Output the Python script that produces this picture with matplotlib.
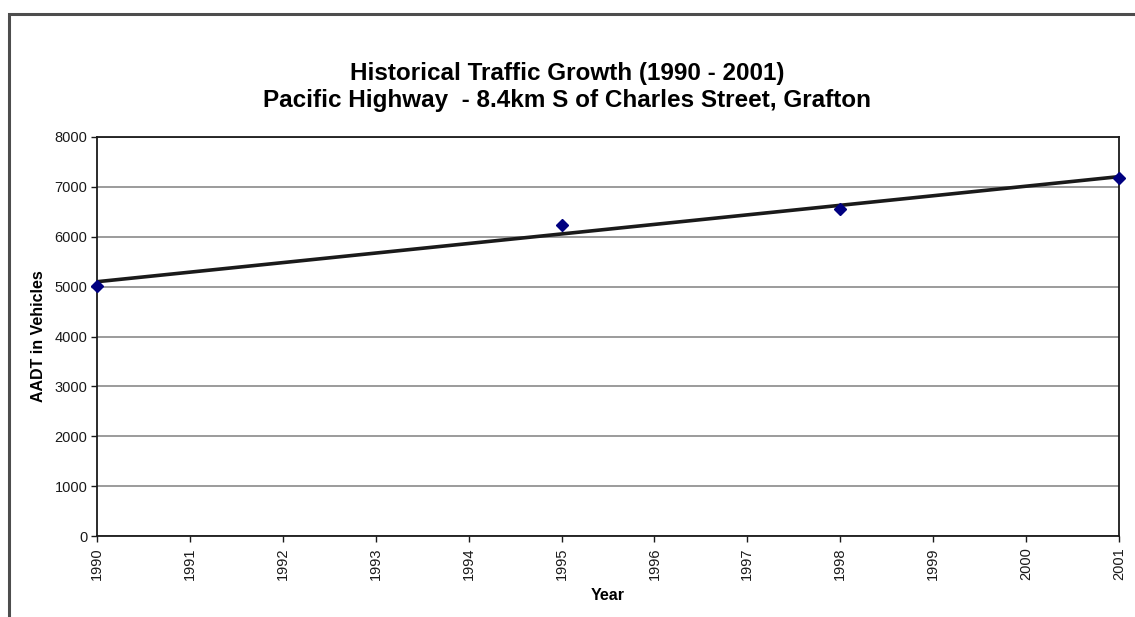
import numpy as np
import matplotlib
matplotlib.use("Agg")
import matplotlib.pyplot as plt
from matplotlib.patches import Rectangle

plt.rcParams['font.family'] = ['Liberation Sans', 'DejaVu Sans']

years = [1990, 1995, 1998, 2001]
aadt = [5020, 6240, 6550, 7180]
year_ticks = list(range(1990, 2002))
y_ticks = list(range(0, 8001, 1000))

title = "Historical Traffic Growth (1990 - 2001)\nPacific Highway  - 8.4km S of Charles Street, Grafton"

fig = plt.figure(figsize=(11.35, 6.17), dpi=100)
ax = fig.add_axes([97 / 1135, 1 - 536 / 617, (1119 - 97) / 1135, (536 - 137) / 617])

# outer chart border (runs off the right and bottom edges)
fig.add_artist(Rectangle((9 / 1135, -0.1), 1.2, 1 - 14 / 617 + 0.1, transform=fig.transFigure,
                         fill=False, edgecolor='#4d4d4d', linewidth=2.2))

# linear trend line
coef = np.polyfit(years, aadt, 1)
xs = np.array([years[0], years[-1]])
ax.plot(xs, np.polyval(coef, xs), color='#1a1a1a', linewidth=2.6, zorder=3)
ax.plot(years, aadt, linestyle='none', marker='D', markersize=6.5, color='#000080',
        clip_on=False, zorder=4)

ax.set_xlim(1990, 2001)
ax.set_ylim(0, 8000)
ax.set_xticks(year_ticks)
ax.set_xticklabels([str(y) for y in year_ticks], rotation=90)
ax.set_yticks(y_ticks)
ax.yaxis.grid(True, color='#808080', linewidth=1.1)
ax.set_axisbelow(True)
for s in ax.spines.values():
    s.set_color('#1a1a1a')
    s.set_linewidth(1.3)
ax.tick_params(axis='both', labelsize=10.5, colors='#1a1a1a', length=4, width=1, direction='out', pad=3)
ax.tick_params(axis='x', pad=4)

ax.set_xlabel("Year", fontsize=11.5, fontweight='bold', labelpad=6)
ax.set_ylabel("AADT in Vehicles", fontsize=11.5, fontweight='bold', labelpad=6)

fig.text(567 / 1135, 1 - 87 / 617, title, ha='center', va='center', fontsize=17.5,
         fontweight='bold', linespacing=1.2)

fig.savefig("out.png", dpi=100)
